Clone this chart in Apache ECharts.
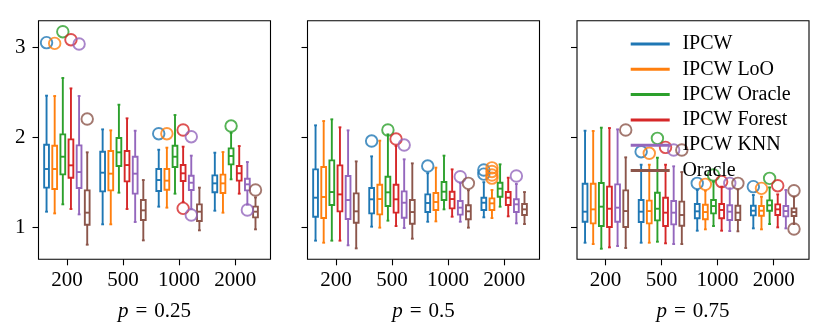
<!DOCTYPE html>
<html>
<head>
<meta charset="utf-8">
<script src="https://cdn.jsdelivr.net/npm/echarts@6/dist/echarts.min.js"></script>
<style>
html,body{margin:0;padding:0;background:#fff;}
#chart{width:830px;height:334px;}
</style>
</head>
<body>
<div id="chart"></div>
<script>
// ---------- data ----------
const categories = ['200', '500', '1000', '2000'];
const methods = ['IPCW', 'IPCW LoO', 'IPCW Oracle', 'IPCW Forest', 'IPCW KNN', 'Oracle'];
const panelLabels = ['0.25', '0.5', '0.75'];
const yTicks = [1, 2, 3];

// box stats per group: [low whisker, Q1, median, Q3, high whisker]
// p = 0.25
const p25_IPCW       = [[1.171,1.439,1.647,1.918,2.465],[1.030,1.398,1.606,1.840,2.089],[1.227,1.401,1.524,1.647,1.862],[1.182,1.387,1.487,1.576,1.829]];
const p25_IPCWLoO    = [[1.152,1.424,1.647,1.907,2.461],[1.030,1.409,1.595,1.848,2.078],[1.216,1.416,1.517,1.647,1.885],[1.160,1.379,1.487,1.584,1.836]];
const p25_IPCWOracle = [[1.253,1.587,1.784,2.033,2.662],[1.383,1.680,1.833,1.993,2.364],[1.372,1.669,1.784,1.907,2.249],[1.532,1.699,1.792,1.877,2.050]];
const p25_IPCWForest = [[1.201,1.550,1.688,1.978,2.546],[1.201,1.509,1.691,1.848,2.212],[1.280,1.513,1.599,1.691,1.896],[1.372,1.517,1.599,1.680,1.903]];
const p25_IPCWKNN    = [[1.141,1.435,1.613,1.911,2.461],[1.056,1.372,1.595,1.784,2.074],[1.200,1.413,1.494,1.572,1.796],[1.250,1.409,1.476,1.539,1.725]];
const p25_Oracle     = [[0.803,1.026,1.160,1.409,1.833],[0.851,1.078,1.186,1.301,1.524],[0.963,1.067,1.171,1.253,1.439],[0.974,1.108,1.171,1.227,1.330]];
// outliers: [method index, group index, value]
const p25_outliers = [[0,0,3.056],[0,2,2.041],[1,0,3.048],[1,2,2.041],[2,0,3.178],[2,3,2.126],[3,0,3.089],[3,2,2.082],[3,2,1.208],[4,0,3.041],[4,2,2.007],[4,2,1.134],[4,3,1.190],[5,0,2.204],[5,3,1.413]];

// p = 0.5
const p50_IPCW       = [[0.848,1.115,1.327,1.643,2.134],[1.004,1.152,1.309,1.435,1.788],[1.059,1.167,1.268,1.364,1.600],[1.108,1.190,1.271,1.327,1.500]];
const p50_IPCWLoO    = [[0.825,1.100,1.335,1.669,2.182],[0.993,1.141,1.312,1.472,1.963],[1.063,1.190,1.279,1.379,1.662],[1.100,1.190,1.264,1.320,1.413]];
const p50_IPCWOracle = [[0.848,1.245,1.390,1.743,2.201],[1.071,1.234,1.387,1.561,2.033],[1.197,1.301,1.394,1.502,1.796],[1.227,1.338,1.428,1.494,1.699]];
const p50_IPCWForest = [[0.848,1.175,1.364,1.688,2.112],[1.011,1.160,1.309,1.472,1.903],[1.115,1.208,1.312,1.394,1.643],[1.119,1.245,1.327,1.390,1.550]];
const p50_IPCWKNN    = [[0.796,1.089,1.301,1.569,2.078],[0.989,1.104,1.271,1.398,1.755],[1.059,1.138,1.216,1.290,1.490],[1.041,1.167,1.253,1.309,1.480]];
const p50_Oracle     = [[0.762,1.048,1.175,1.375,1.732],[0.870,1.037,1.167,1.301,1.710],[0.993,1.086,1.175,1.242,1.410],[1.033,1.134,1.197,1.257,1.390]];
const p50_outliers = [[0,1,1.959],[0,2,1.680],[0,3,1.636],[0,3,1.590],[1,3,1.660],[1,3,1.620],[1,3,1.580],[1,3,1.545],[2,1,2.082],[3,1,1.981],[4,1,1.914],[4,2,1.561],[4,3,1.569],[5,2,1.487]];

// p = 0.75
const p75_IPCW       = [[0.825,1.059,1.171,1.483,2.074],[0.825,1.056,1.171,1.301,1.695],[0.959,1.097,1.175,1.257,1.413],[0.985,1.130,1.182,1.238,1.357]];
const p75_IPCWLoO    = [[0.810,1.041,1.197,1.483,2.071],[0.825,1.041,1.178,1.294,1.695],[0.974,1.086,1.167,1.249,1.405],[0.974,1.126,1.182,1.234,1.338]];
const p75_IPCWOracle = [[0.758,1.011,1.227,1.491,2.108],[0.836,1.074,1.204,1.383,1.773],[1.011,1.152,1.234,1.301,1.506],[1.033,1.182,1.242,1.297,1.442]];
const p75_IPCWForest = [[0.773,1.000,1.204,1.450,2.104],[0.818,1.011,1.160,1.327,1.695],[0.959,1.097,1.190,1.257,1.450],[0.996,1.134,1.197,1.253,1.364]];
const p75_IPCWKNN    = [[0.788,1.059,1.216,1.476,2.089],[0.810,1.030,1.160,1.290,1.677],[0.955,1.078,1.171,1.242,1.431],[0.985,1.119,1.178,1.234,1.413]];
const p75_Oracle     = [[0.766,1.000,1.178,1.409,1.777],[0.810,1.015,1.134,1.283,1.613],[0.952,1.078,1.160,1.238,1.420],[1.033,1.123,1.167,1.208,1.338]];
const p75_outliers = [[5,0,2.082],[0,1,1.840],[0,2,1.487],[0,3,1.450],[1,1,1.822],[1,2,1.476],[1,3,1.431],[2,1,1.989],[2,2,1.580],[2,3,1.543],[3,1,1.888],[3,2,1.506],[3,3,1.461],[4,1,1.859],[4,2,1.487],[5,1,1.859],[5,2,1.487],[5,3,1.405],[5,3,0.978]];

// ---------- styling / layout ----------
const colors = ['#1f77b4', '#ff7f0e', '#2ca02c', '#d62728', '#9467bd', '#8c564b'];
const panels = [
  {label: panelLabels[0], boxes: [p25_IPCW, p25_IPCWLoO, p25_IPCWOracle, p25_IPCWForest, p25_IPCWKNN, p25_Oracle], outliers: p25_outliers},
  {label: panelLabels[1], boxes: [p50_IPCW, p50_IPCWLoO, p50_IPCWOracle, p50_IPCWForest, p50_IPCWKNN, p50_Oracle], outliers: p50_outliers},
  {label: panelLabels[2], boxes: [p75_IPCW, p75_IPCWLoO, p75_IPCWOracle, p75_IPCWForest, p75_IPCWKNN, p75_Oracle], outliers: p75_outliers}
];
const gridLefts = [38.5, 307.5, 577];
const gridWidth = 232;
const FONT = 'Liberation Serif';
const STEP = 0.145, BOX_W = 0.085, CAP_W = 0.05, LW = 1.9;
const offset = m => (m - 2.5) * STEP;

const grids = [], xAxes = [], yAxes = [], series = [];
panels.forEach((pn, k) => {
  grids.push({left: gridLefts[k], top: 20.7, width: gridWidth, height: 238.6, show: true, borderColor: '#000', borderWidth: 1.1, backgroundColor: 'transparent'});
  xAxes.push({
    type: 'value', gridIndex: k, min: -0.506, max: 3.63,
    axisLine: {show: false, onZero: false}, splitLine: {show: false},
    axisTick: {show: true, customValues: [0, 1, 2, 3], length: 6, lineStyle: {color: '#000', width: 1.1}},
    axisLabel: {show: true, customValues: [0, 1, 2, 3], formatter: v => categories[Math.round(v)], margin: 11, fontFamily: FONT, fontSize: 21, color: '#000'},
    name: '{i|p}{t|\u2004=\u2004' + pn.label + '}', nameLocation: 'middle', nameGap: 41.5,
    nameTextStyle: {rich: {i: {fontFamily: FONT, fontStyle: 'italic', fontSize: 21, color: '#000'}, t: {fontFamily: FONT, fontSize: 21, color: '#000'}}}
  });
  yAxes.push({
    type: 'value', gridIndex: k, min: 0.640, max: 3.301,
    axisLine: {show: false, onZero: false}, splitLine: {show: false},
    axisTick: {show: true, customValues: yTicks, length: 6, lineStyle: {color: '#000', width: 1.1}},
    axisLabel: {show: k === 0, customValues: yTicks, margin: 13, fontFamily: FONT, fontSize: 21, color: '#000'}
  });
});

panels.forEach((pn, k) => {
  pn.boxes.forEach((arr, m) => {
    series.push({
      type: 'custom', name: methods[m], xAxisIndex: k, yAxisIndex: k,
      itemStyle: {color: colors[m]},
      data: arr.map((b, g) => [g + offset(m)].concat(b)),
      encode: {x: 0, y: [1, 2, 3, 4, 5]},
      clip: false,
      renderItem: function (params, api) {
        const x = api.value(0);
        const c = colors[m];
        const low = api.coord([x, api.value(1)]);
        const q1 = api.coord([x, api.value(2)]);
        const med = api.coord([x, api.value(3)]);
        const q3 = api.coord([x, api.value(4)]);
        const high = api.coord([x, api.value(5)]);
        const w = api.size([BOX_W, 0])[0];
        const cw = api.size([CAP_W, 0])[0];
        const px = low[0];
        const st = {stroke: c, lineWidth: LW, fill: null};
        return {type: 'group', children: [
          {type: 'line', shape: {x1: px, y1: low[1], x2: px, y2: q1[1]}, style: st},
          {type: 'line', shape: {x1: px, y1: q3[1], x2: px, y2: high[1]}, style: st},
          {type: 'line', shape: {x1: px - cw / 2, y1: low[1], x2: px + cw / 2, y2: low[1]}, style: st},
          {type: 'line', shape: {x1: px - cw / 2, y1: high[1], x2: px + cw / 2, y2: high[1]}, style: st},
          {type: 'rect', shape: {x: px - w / 2, y: q3[1], width: w, height: q1[1] - q3[1]}, style: {stroke: c, lineWidth: LW, fill: '#fff'}},
          {type: 'line', shape: {x1: px - w / 2, y1: med[1], x2: px + w / 2, y2: med[1]}, style: st}
        ]};
      }
    });
  });
});

panels.forEach((pn, k) => {
  methods.forEach((name, m) => {
    const pts = pn.outliers.filter(o => o[0] === m).map(o => [o[1] + offset(m), o[2]]);
    if (!pts.length) return;
    series.push({
      type: 'scatter', name: name, xAxisIndex: k, yAxisIndex: k,
      symbol: 'circle', symbolSize: 11.5, clip: false,
      itemStyle: {color: 'rgba(0,0,0,0)', borderColor: colors[m], borderWidth: LW},
      z: 3,
      data: pts
    });
  });
});

const chart = echarts.init(document.getElementById('chart'), null, {renderer: 'canvas'});
chart.setOption({
  animation: false,
  color: colors,
  grid: grids,
  xAxis: xAxes,
  yAxis: yAxes,
  legend: {
    data: methods.map(n => ({name: n, icon: 'rect'})),
    orient: 'vertical', left: 630.7, top: 34, padding: 0,
    itemWidth: 39, itemHeight: 3, itemGap: 5.3,
    textStyle: {fontFamily: FONT, fontSize: 20, lineHeight: 20, color: '#000', padding: [0, 0, 0, 7.7]},
    z: 10
  },
  series: series
});
</script>
</body>
</html>
